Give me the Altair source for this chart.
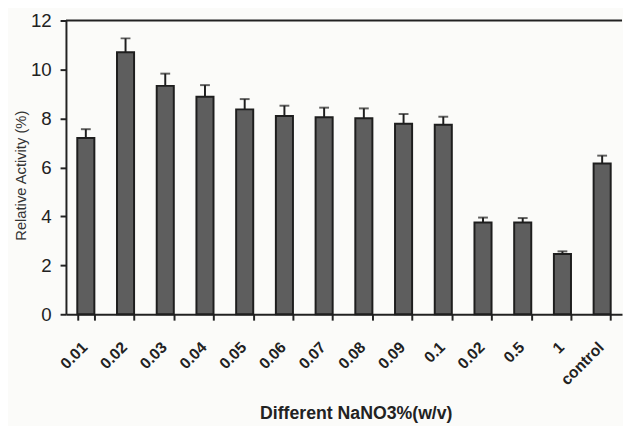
import altair as alt
import pandas as pd

labels = ["0.01", "0.02", "0.03", "0.04", "0.05", "0.06", "0.07", "0.08",
          "0.09", "0.1", "0.02\u200b", "0.5", "1", "control"]
values = [7.2, 10.7, 9.33, 8.89, 8.37, 8.1, 8.05, 8.01, 7.78, 7.74, 3.75, 3.75, 2.46, 6.16]
errors = [0.36, 0.57, 0.5, 0.47, 0.42, 0.42, 0.39, 0.4, 0.4, 0.33, 0.2, 0.18, 0.11, 0.32]

df = pd.DataFrame({"cat": labels, "val": values, "err": errors})
df["hi"] = df["val"] + df["err"]

W, H = 566, 299
FONT = "Liberation Sans"

x = alt.X("cat:N", sort=labels, title="Different NaNO3%(w/v)",
          scale=alt.Scale(paddingInner=0.57, paddingOuter=0.285),
          axis=alt.Axis(labelAngle=-45, labelFontWeight="bold", labelFontSize=16,
                        labelFont=FONT, labelColor="#222", labelPadding=19,
                        labelOffset=-7,
                        tickBand="extent", tickSize=6, tickWidth=2, tickColor="#222",
                        domainColor="#222", domainWidth=2,
                        titleFont=FONT, titleFontSize=18,
                        titleFontWeight="bold", titleColor="#222", titlePadding=17,
                        titleX=W / 2 + 12,
                        labelExpr="replace(datum.label, '\u200b', '')"))
y = alt.Y("val:Q", title="Relative Activity (%)",
          scale=alt.Scale(domain=[0, 12], nice=False),
          axis=alt.Axis(values=[0, 2, 4, 6, 8, 10, 12], grid=False,
                        labelFontSize=19, labelFont=FONT, labelColor="#222",
                        labelPadding=9, tickSize=6, tickWidth=2, tickColor="#222",
                        domainColor="#222", domainWidth=2,
                        titleFont=FONT, titleFontSize=15, titleFontWeight="normal",
                        titleColor="#333", titlePadding=2, titleY=H / 2 + 8))

base = alt.Chart(df)

bars = base.mark_bar(fill="#5e5e5e", stroke="#1e1e1e", strokeWidth=2).encode(x=x, y=y)
errs = base.mark_rule(color="#1e1e1e", strokeWidth=2).encode(
    x=alt.X("cat:N", sort=labels), y="val:Q", y2="hi:Q")
caps = base.mark_tick(color="#1e1e1e", thickness=2, size=10, orient="horizontal").encode(
    x=alt.X("cat:N", sort=labels), y="hi:Q")
topline = alt.Chart(pd.DataFrame({"a": [0]})).mark_rule(color="#222", strokeWidth=2).encode(
    x=alt.value(0), x2=alt.value(W), y=alt.value(0))

chart = alt.layer(bars, errs, caps, topline).properties(
    width=W, height=H,
    padding={"left": 5, "top": 0, "right": 0, "bottom": 0},
    background="#fbfbf9",
).configure_view(stroke=None)

chart.save("out.html", embed_options={"renderer": "svg", "actions": False})
